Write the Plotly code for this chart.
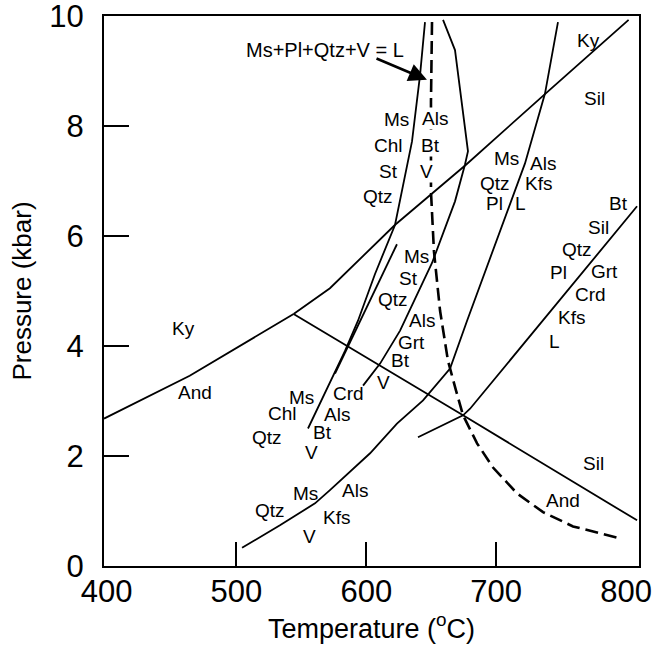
import plotly.graph_objects as go

# ---- data (Temperature in °C, Pressure in kbar) ----
ky_and_T = [398, 464, 544]
ky_and_P = [2.68, 3.46, 4.58]

ky_sil_T = [544, 572, 622, 677, 738, 802]
ky_sil_P = [4.58, 5.05, 6.20, 7.30, 8.59, 9.93]

and_sil_T = [544, 674.5, 808.5]
and_sil_P = [4.58, 2.74, 0.83]

solidus_T = [650.6, 649.8, 649.8, 652.1, 656.8, 662.9, 669.1, 674.5, 685.3, 697.6, 716.1, 736.1, 759.2, 793.8]
solidus_P = [9.89, 8.44, 6.81, 5.72, 4.64, 3.73, 3.19, 2.74, 2.23, 1.79, 1.32, 0.98, 0.72, 0.51]

st_out_T = [645.2, 641.4, 635.2, 622.1, 606.7, 593.6, 583.6, 574.4, 565.9, 555.1]
st_out_P = [9.89, 8.93, 7.72, 6.20, 5.31, 4.46, 3.91, 3.46, 3.04, 2.50]

chl_out_T = [623.6, 575.9]
chl_out_P = [5.85, 3.50]

ms_st_T = [659.1, 668.3, 678.3, 676.0, 668.3, 650.6, 626.0, 610.6, 597.5]
ms_st_P = [9.93, 9.38, 7.54, 7.30, 6.63, 5.51, 4.28, 3.68, 3.28]

ms_qtz_T = [504.3, 533.5, 560.5, 572.0, 602.9, 623.6, 643.7, 664.5, 677.6, 710.7, 722.2, 737.6, 747.6]
ms_qtz_P = [0.33, 0.74, 1.14, 1.38, 2.05, 2.59, 3.01, 3.59, 4.46, 6.58, 7.32, 8.59, 9.89]

bt_melt_T = [639.8, 674.5, 679.9, 808.5]
bt_melt_P = [2.34, 2.74, 2.86, 6.54]

x_ticks = [400, 500, 600, 700, 800]
y_ticks = [0, 2, 4, 6, 8, 10]
x_tick_marks = [500, 600, 700]
y_tick_marks = [2, 4, 6, 8]

# (text, T, P, white background)
labels = [
    ("Ky", 771, 9.56, False), ("Sil", 775.4, 8.50, False),
    ("Ms", 623.4, 8.11, False), ("Als", 652.9, 8.14, True), ("Chl", 617, 7.64, False),
    ("Bt", 649.1, 7.64, True), ("St", 617, 7.17, False), ("V", 646.5, 7.17, True),
    ("Qtz", 609.2, 6.72, False),
    ("Ms", 708, 7.41, False), ("Als", 736.3, 7.32, False), ("Qtz", 699, 6.96, False),
    ("Kfs", 732.5, 6.96, False), ("Pl", 699, 6.60, False), ("L", 718.4, 6.60, False),
    ("Bt", 794, 6.60, False), ("Sil", 778.7, 6.15, False), ("Qtz", 762, 5.76, False),
    ("Pl", 748, 5.33, False), ("Grt", 783.8, 5.36, False), ("Crd", 772.3, 4.94, False),
    ("Kfs", 758.2, 4.52, False), ("L", 745.3, 4.09, False),
    ("Ms", 638.8, 5.63, False), ("St", 632.3, 5.22, False), ("Qtz", 620.8, 4.84, False),
    ("Als", 642.7, 4.46, False), ("Grt", 635, 4.06, False), ("Bt", 626, 3.73, False),
    ("V", 613.1, 3.34, False),
    ("Crd", 586.1, 3.14, False), ("Ms", 550.3, 3.07, False), ("Chl", 535.1, 2.77, False),
    ("Als", 577.2, 2.76, False), ("Qtz", 523.3, 2.34, False), ("Bt", 566.3, 2.43, False),
    ("V", 558, 2.07, False),
    ("Ky", 459.1, 4.31, False), ("And", 468.1, 3.16, False),
    ("Ms", 552.8, 1.32, False), ("Als", 591.3, 1.38, False), ("Qtz", 525.8, 1.01, False),
    ("Kfs", 577.2, 0.89, False), ("V", 556.6, 0.53, False),
    ("Sil", 774.8, 1.86, False), ("And", 751.7, 1.20, False),
]

FONT = "Liberation Sans, Arial, sans-serif"

fig = go.Figure()

def add_line(T, P, dash=None, width=1.8):
    fig.add_trace(go.Scatter(
        x=T, y=P, mode="lines",
        line=dict(color="black", width=width, dash=dash),
        showlegend=False, hoverinfo="skip"))

add_line(ky_and_T, ky_and_P)
add_line(ky_sil_T, ky_sil_P)
add_line(and_sil_T, and_sil_P)
add_line(st_out_T, st_out_P)
add_line(chl_out_T, chl_out_P)
add_line(ms_st_T, ms_st_P)
add_line(ms_qtz_T, ms_qtz_P)
add_line(bt_melt_T, bt_melt_P)
add_line(solidus_T, solidus_P, dash="13px,6px", width=2.6)

for txt, t, p, bg in labels:
    fig.add_annotation(x=t, y=p, text=txt, showarrow=False,
                       bgcolor="white" if bg else "rgba(0,0,0,0)", borderpad=0,
                       font=dict(family=FONT, size=19, color="black"))

fig.add_annotation(x=568.2, y=9.39, text="Ms+Pl+Qtz+V = L", showarrow=False,
                   font=dict(family=FONT, size=20, color="black"))
fig.add_annotation(x=646.7, y=8.84, ax=606.7, ay=9.24, axref="x", ayref="y",
                   xref="x", yref="y", text="", showarrow=True,
                   arrowhead=2, arrowsize=1.4, arrowwidth=2.6, arrowcolor="black")

axis_common = dict(showgrid=False, zeroline=False, showline=True, mirror=True,
                   linecolor="black", linewidth=2, ticks="",
                   ticklabeloverflow="allow",
                   tickfont=dict(family=FONT, size=31, color="black"))

fig.update_xaxes(range=[398, 810], tickvals=x_ticks, ticklabelstandoff=-3,
                 minor=dict(tickmode="array", tickvals=x_tick_marks, ticks="inside",
                            ticklen=24, tickwidth=1.6, tickcolor="black", showgrid=False),
                 title=dict(text="Temperature (<sup>o</sup>C)",
                            font=dict(family=FONT, size=27, color="black"), standoff=1),
                 **axis_common)
fig.update_yaxes(range=[0, 10], tickvals=y_ticks, ticklabelstandoff=12,
                 minor=dict(tickmode="array", tickvals=y_tick_marks, ticks="inside",
                            ticklen=25, tickwidth=1.6, tickcolor="black", showgrid=False),
                 title=dict(text="Pressure (kbar)",
                            font=dict(family=FONT, size=26, color="black"), standoff=10),
                 **axis_common)

fig.update_layout(width=653, height=648,
                  margin=dict(l=104, r=14, t=16, b=82, autoexpand=False),
                  plot_bgcolor="white", paper_bgcolor="white",
                  font=dict(family=FONT))

fig.write_html("out.html", config={"displayModeBar": False},
               post_script="document.body.style.margin='0px';")
